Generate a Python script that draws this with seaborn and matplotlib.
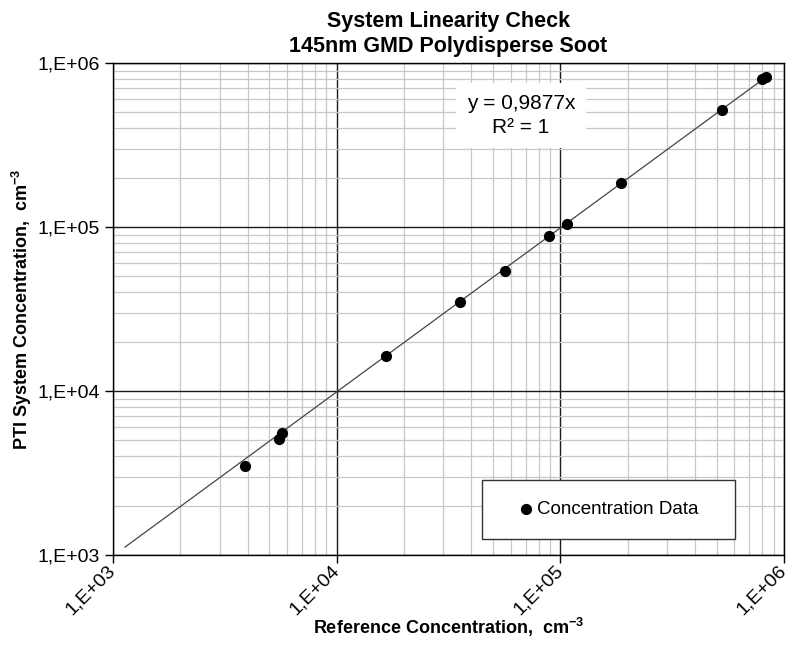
import math
import matplotlib
matplotlib.use("Agg")
import matplotlib.pyplot as plt
import seaborn as sns
import pandas as pd
from matplotlib.patches import Rectangle
from matplotlib.ticker import LogLocator, FuncFormatter

# data
ref_conc = [3.89e3, 5.51e3, 5.72e3, 1.656e4, 3.56e4, 5.64e4, 8.91e4, 1.074e5,
            1.87e5, 5.30e5, 7.94e5, 8.30e5]
pti_conc = [3.49e3, 5.10e3, 5.57e3, 1.63e4, 3.47e4, 5.42e4, 8.77e4, 1.04e5,
            1.85e5, 5.17e5, 7.98e5, 8.24e5]
slope = 0.9877
trend_x = [1.13e3, 8.65e5]
decades = [1e3, 1e4, 1e5, 1e6]

sns.set_style("white")
plt.rcParams['font.family'] = ['Liberation Sans', 'DejaVu Sans']
plt.rcParams['mathtext.fontset'] = 'custom'
plt.rcParams['mathtext.rm'] = 'Liberation Sans'
plt.rcParams['mathtext.bf'] = 'Liberation Sans:bold'
plt.rcParams['text.color'] = 'black'
plt.rcParams['axes.labelcolor'] = 'black'
plt.rcParams['xtick.color'] = 'black'
plt.rcParams['ytick.color'] = 'black'

df = pd.DataFrame({"ref": ref_conc, "pti": pti_conc})

fig, ax = plt.subplots(figsize=(7.9, 6.49), dpi=100)
fig.subplots_adjust(left=113/790, right=784/790, top=1-63/649, bottom=1-555/649)

ax.set_xscale("log")
ax.set_yscale("log")
ax.set_xlim(decades[0], decades[-1])
ax.set_ylim(decades[0], decades[-1])

# grid
ax.xaxis.set_minor_locator(LogLocator(base=10, subs=range(2, 10)))
ax.yaxis.set_minor_locator(LogLocator(base=10, subs=range(2, 10)))
ax.grid(True, which="minor", color="#c8c8c8", lw=0.9)
ax.grid(True, which="major", color="#1a1a1a", lw=1.0)
ax.set_axisbelow(True)

# trend line
ax.plot(trend_x, [slope * v for v in trend_x], color="#444444", lw=0.9, zorder=2)

sns.scatterplot(data=df, x="ref", y="pti", ax=ax, color="black", s=65,
                edgecolor="black", linewidth=0, zorder=3, legend=False)

fmt = FuncFormatter(lambda v, p: "1,E+%02d" % round(math.log10(v)))
ax.set_xticks(decades)
ax.set_yticks(decades)
ax.xaxis.set_major_formatter(fmt)
ax.yaxis.set_major_formatter(fmt)
ax.tick_params(axis="both", which="major", direction="out", length=6, width=1,
               color="black", labelcolor="black", labelsize=14, bottom=True, left=True)
ax.tick_params(axis="both", which="minor", length=0)
for lab in ax.get_xticklabels():
    lab.set_rotation(45)
    lab.set_ha("right")
    lab.set_va("center")
    lab.set_rotation_mode("anchor")

for sp in ax.spines.values():
    sp.set_color("black")
    sp.set_linewidth(1.0)

ax.set_title("System Linearity Check\n145nm GMD Polydisperse Soot",
             fontsize=15.5, fontweight="bold", pad=8, linespacing=1.25, color="black")
ax.set_xlabel(r"Reference Concentration,  cm$^{\mathbf{-3}}$", fontsize=13,
              fontweight="bold")
ax.set_ylabel(r"PTI System Concentration,  cm$^{\mathbf{-3}}$", fontsize=13,
              fontweight="bold")
ax.xaxis.set_label_coords(0.5, (555-627)/492)
ax.yaxis.set_label_coords((22-113)/671, 0.5)
ax.xaxis.label.set_va("center")
ax.yaxis.label.set_va("center")

# equation box
ax.text(0.608, 0.893, "y = 0,9877x\nR² = 1", transform=ax.transAxes,
        ha="center", va="center", fontsize=15, linespacing=1.3,
        bbox=dict(facecolor="white", edgecolor="none", pad=8), zorder=4)

# legend box
x0, x1 = (482-113)/671, (735-113)/671
y0, y1 = (555-539)/492, (555-480)/492
ax.add_patch(Rectangle((x0, y0), x1-x0, y1-y0, transform=ax.transAxes,
                       facecolor="white", edgecolor="#333333", lw=1.0, zorder=4))
ax.scatter([], [], color="black", s=50, label="Concentration Data")
leg = ax.legend(loc="center", bbox_to_anchor=((x0+x1)/2, (y0+y1)/2),
                frameon=False, fontsize=13.5, handlelength=0.8,
                handletextpad=0.2, markerscale=1.0)
leg.set_zorder(5)

fig.savefig("out.png", dpi=100)
